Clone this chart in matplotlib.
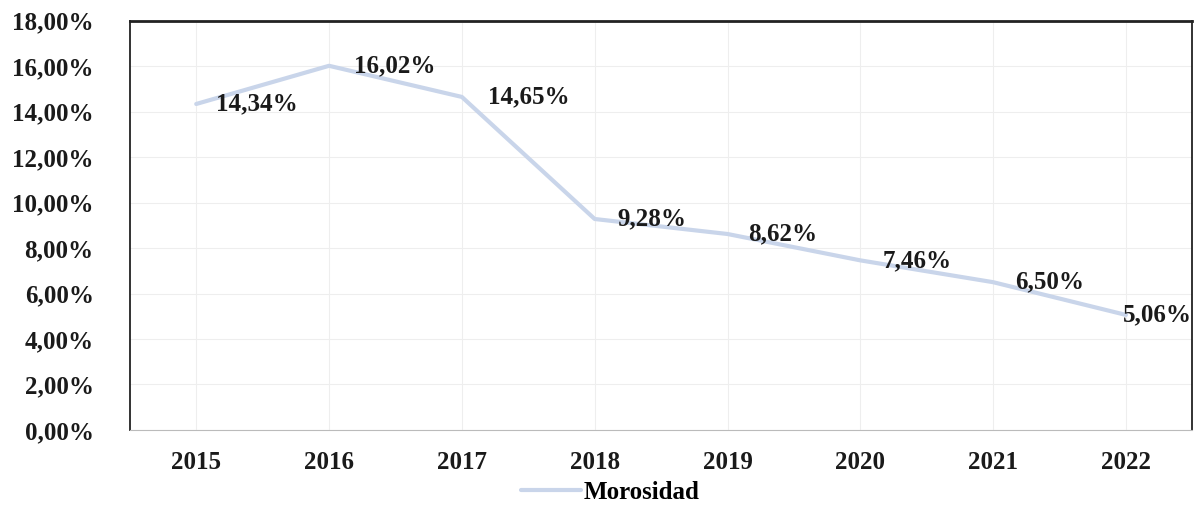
import matplotlib.pyplot as plt
from matplotlib.ticker import FuncFormatter

# Morosidad por año
years = ['2015', '2016', '2017', '2018', '2019', '2020', '2021', '2022']
morosidad = [14.34, 16.02, 14.65, 9.28, 8.62, 7.46, 6.50, 5.06]

plt.rcParams['font.family'] = ['Liberation Serif', 'DejaVu Serif']
plt.rcParams['font.weight'] = 'bold'

fig = plt.figure(figsize=(12.02, 5.07), dpi=100)
ax = fig.add_axes([0.108, 0.152, 0.884, 0.807])

x = list(range(len(years)))
ax.plot(x, morosidad, color='#c9d5ea', linewidth=3, label='Morosidad', solid_capstyle='round')

# data labels to the right of each point (last one squeezed against the border)
offsets = [14, 18, 19, 16, 15, 16, 16, -2]
for xi, v, dx in zip(x, morosidad, offsets):
    ax.annotate(f'{v:.2f}%'.replace('.', ','), (xi, v), xytext=(dx, 0),
                textcoords='offset points', ha='left', va='center',
                fontsize=18, fontweight='bold', color='#1a1a1a')

ax.set_xlim(-0.5, 7.5)
ax.set_ylim(0, 18)
ax.set_yticks(range(0, 19, 2))
ax.yaxis.set_major_formatter(FuncFormatter(lambda v, p: f'{v:.2f}%'.replace('.', ',')))
ax.set_xticks(x)
ax.set_xticklabels(years)
ax.tick_params(axis='both', length=0, labelsize=18, colors='#1a1a1a')
ax.tick_params(axis='x', pad=15)
ax.tick_params(axis='y', pad=26)

ax.grid(True, color='#eeeeee', linewidth=0.8)
ax.set_axisbelow(True)
for side in ['left', 'top', 'right']:
    ax.spines[side].set_color('#222222')
    ax.spines[side].set_linewidth(1.3)
ax.spines['top'].set_linewidth(2)
ax.spines['bottom'].set_color('#bbbbbb')

ax.legend(loc='center', bbox_to_anchor=(0.452, -0.152), frameon=False,
          handlelength=2.4, handletextpad=0.1, borderpad=0,
          prop={'weight': 'bold', 'size': 18})

fig.savefig('out.png', dpi=100)
